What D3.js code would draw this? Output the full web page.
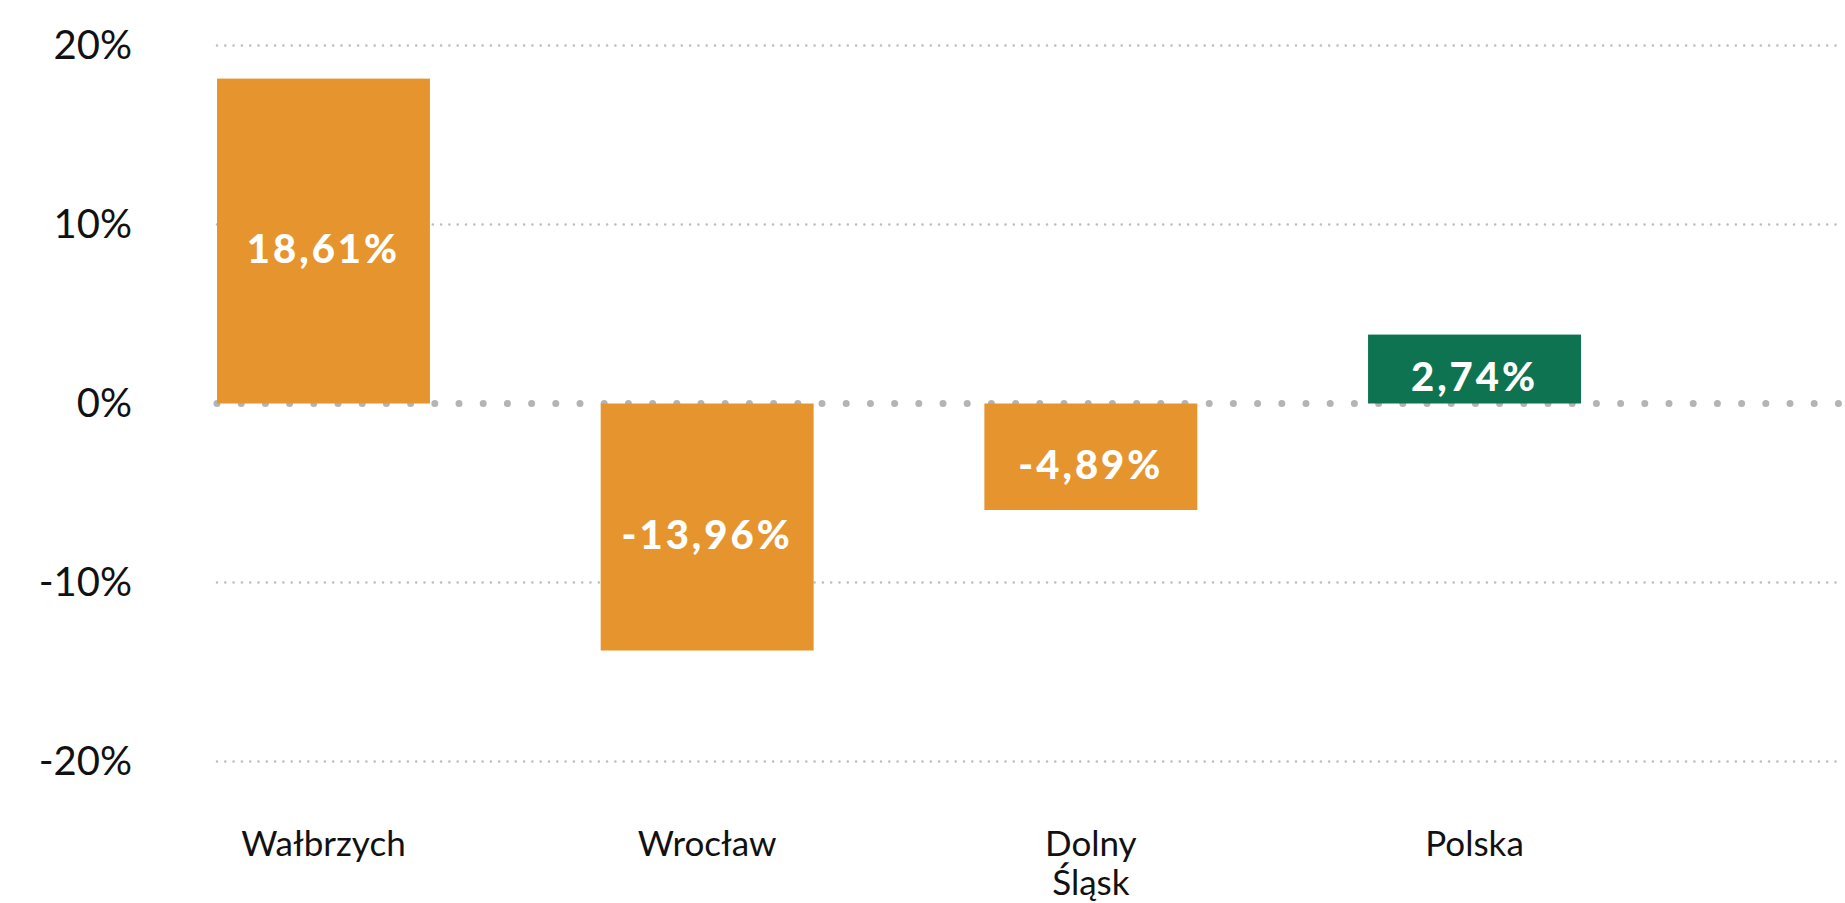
<!DOCTYPE html>
<html>
<head>
<meta charset="utf-8">
<script src="https://cdn.jsdelivr.net/npm/d3@7"></script>
<style>
  html, body { margin: 0; padding: 0; background: #fff; }
  svg { display: block; }
</style>
</head>
<body>
<svg id="chart" width="1845" height="903"></svg>
<script>
// ---- data ----
const categories = ["Wałbrzych", "Wrocław", "Dolny Śląsk", "Polska"];
const categoryLines = [["Wałbrzych"], ["Wrocław"], ["Dolny", "Śląsk"], ["Polska"]];
// bar heights as drawn in the picture (%)
const barValues = [18.15, -13.8, -5.95, 3.85];
// printed value labels (%)
const labelValues = [18.61, -13.96, -4.89, 2.74];
const barColors = ["#E6952E", "#E6952E", "#E6952E", "#0E7350"];
const yTicks = [-20, -10, 0, 10, 20];

// ---- layout ----
const svg = d3.select("#chart");
const plotLeft = 217, plotRight = 1841;

const y = d3.scaleLinear().domain([-20, 20]).range([761.5, 45.5]);
const x = d3.scaleBand().domain(categories).range([217, 1581])
  .paddingInner(0.445).paddingOuter(0);

const fontFamily = "Lato, 'Open Sans', sans-serif";

// gridlines (non-zero)
svg.append("g").selectAll("line.grid")
  .data(yTicks.filter(d => d !== 0))
  .join("line")
  .attr("x1", plotLeft).attr("x2", plotRight)
  .attr("y1", d => y(d)).attr("y2", d => y(d))
  .attr("stroke", "#bdbdbd")
  .attr("stroke-width", 2.6)
  .attr("stroke-linecap", "round")
  .attr("stroke-dasharray", "0 8.3");

// zero line
svg.append("line")
  .attr("x1", plotLeft).attr("x2", plotRight)
  .attr("y1", y(0)).attr("y2", y(0))
  .attr("stroke", "#b4b4b4")
  .attr("stroke-width", 7)
  .attr("stroke-linecap", "round")
  .attr("stroke-dasharray", "0 24.2");

// y-axis labels
const yAxis = d3.axisLeft(y).tickValues(yTicks).tickFormat(d => d + "%").tickSize(0).tickPadding(0);
const yg = svg.append("g").attr("transform", "translate(132,0)").call(yAxis);
yg.select(".domain").remove();
yg.selectAll("text")
  .attr("font-family", fontFamily)
  .attr("font-size", 40)
  .attr("fill", "#111")
  .attr("dy", "0.33em");

// bars
const data = categories.map((c, i) => ({ c, v: barValues[i], lab: labelValues[i], color: barColors[i], lines: categoryLines[i] }));

svg.append("g").selectAll("rect")
  .data(data)
  .join("rect")
  .attr("x", d => x(d.c))
  .attr("width", x.bandwidth())
  .attr("y", d => Math.min(y(d.v), y(0)))
  .attr("height", d => Math.abs(y(d.v) - y(0)))
  .attr("fill", d => d.color);

// value labels
const fmt = v => d3.format(".2f")(v).replace(".", ",").replace("−", "-") + "%";
svg.append("g").selectAll("text")
  .data(data)
  .join("text")
  .attr("x", d => x(d.c) + x.bandwidth() / 2)
  .attr("y", d => (y(d.v) + y(0)) / 2)
  .attr("dy", "0.55em")
  .attr("text-anchor", "middle")
  .attr("font-family", fontFamily)
  .attr("font-weight", 900)
  .attr("font-size", 40)
  .attr("letter-spacing", 3)
  .attr("fill", "#fff")
  .text(d => fmt(d.lab));

// category labels
const cl = svg.append("g").selectAll("text")
  .data(data)
  .join("text")
  .attr("x", d => x(d.c) + x.bandwidth() / 2)
  .attr("y", 856)
  .attr("text-anchor", "middle")
  .attr("font-family", fontFamily)
  .attr("font-size", 35)
  .attr("fill", "#111");
cl.selectAll("tspan")
  .data(d => d.lines.map(t => ({ t, x: x(d.c) + x.bandwidth() / 2 })))
  .join("tspan")
  .attr("x", t => t.x)
  .attr("dy", (t, i) => i === 0 ? 0 : 39)
  .text(t => t.t);
</script>
</body>
</html>
